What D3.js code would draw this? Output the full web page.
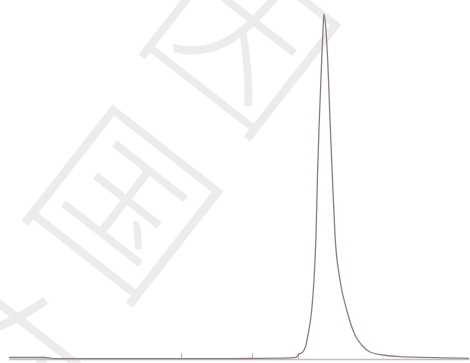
<!DOCTYPE html>
<html>
<head>
<meta charset="utf-8">
<script src="https://cdn.jsdelivr.net/npm/d3@7"></script>
<style>
  html, body { margin: 0; padding: 0; background: #ffffff; }
  svg { display: block; }
</style>
</head>
<body>
<svg id="chart" width="470" height="363"></svg>
<script>
// Retention time (arbitrary units) and detector signal (relative %)
const times = [0, 3.6, 4.6, 10, 15, 20, 24.1, 28.1, 28.7, 28.9, 29.37, 29.7, 29.9,
  30.27, 30.5, 30.7, 30.85, 31.03, 31.27, 31.4, 31.5, 31.65, 31.87, 32.1, 32.33,
  32.6, 33.1, 33.77, 34.6, 35.27, 36.1, 37.4, 39.1, 41.1, 43.1, 46];
const signal = [0.43, 0.43, 0.1, 0.1, 0.1, 0.12, 0.15, 0.3, 0.45, 1.16, 2.0, 4.06, 6.96,
  14.2, 22.9, 35.9, 53.3, 69.3, 86.7, 95.4, 100, 96.8, 86.7, 69.3, 53.3,
  35.9, 22.9, 14.2, 6.96, 4.06, 2.03, 1.16, 0.67, 0.5, 0.35, 0.2];
const tickTimes = [17.2, 24.3, 28.9];
const watermarkChars = ["因", "国", "在"];

const svg = d3.select("#chart");
const margin = { left: 9, right: 1, top: 14, bottom: 4 };
const W = 470, H = 363;

// watermark (faint, rotated)
const wmPos = [[248, 29], [131, 195], [14, 361]];
svg.append("g").selectAll("text")
  .data(watermarkChars)
  .join("text")
  .attr("transform", (d, i) => `translate(${wmPos[i][0]},${wmPos[i][1]}) rotate(38)`)
  .attr("text-anchor", "middle")
  .attr("dominant-baseline", "central")
  .attr("font-family", "'Noto Sans CJK SC', sans-serif")
  .attr("font-weight", 300)
  .attr("font-size", 172)
  .attr("fill", "#ececec")
  .text(d => d);

const x = d3.scaleLinear().domain([0, 46]).range([margin.left, W - margin.right]);
const y = d3.scaleLinear().domain([0, 100]).range([H - margin.bottom, margin.top]);

// axis
const axis = d3.axisBottom(x)
  .tickValues(tickTimes)
  .tickSizeInner(-6)
  .tickSizeOuter(0)
  .tickFormat("");
const gAxis = svg.append("g")
  .attr("transform", `translate(0,${y(0)})`)
  .call(axis);
gAxis.select(".domain").attr("stroke", "#c9bcc0").attr("stroke-width", 1.6);
gAxis.selectAll(".tick line").attr("stroke", "#c2b6b9").attr("stroke-width", 1.2);

// trace
const pts = times.map((t, i) => [t, signal[i]]);
const line = d3.line()
  .x(d => x(d[0]))
  .y(d => y(d[1]))
  .curve(d3.curveMonotoneX);
svg.append("path")
  .datum(pts)
  .attr("d", line)
  .attr("fill", "none")
  .attr("stroke", "#8d7f80")
  .attr("stroke-width", 1.3)
  .attr("stroke-linejoin", "round");
</script>
</body>
</html>
